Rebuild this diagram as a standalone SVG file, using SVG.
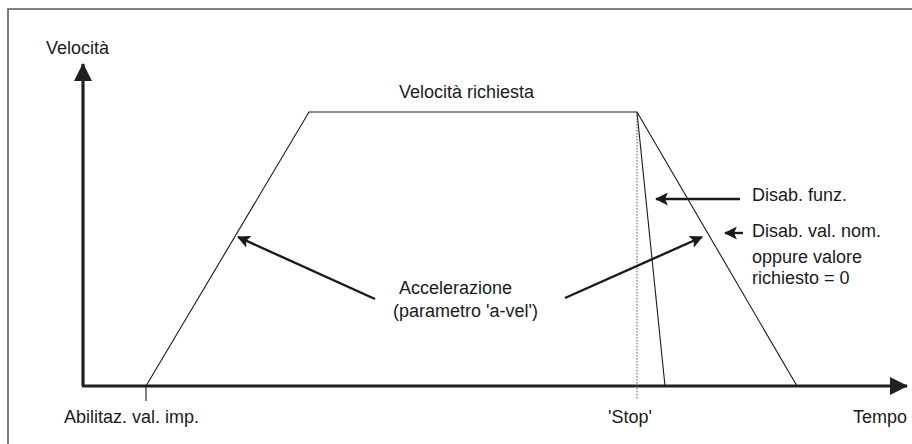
<svg xmlns="http://www.w3.org/2000/svg" width="912" height="444" viewBox="0 0 912 444">
<style>
text{font-family:"Liberation Sans",Arial,sans-serif;font-size:18px;fill:#1a1a1a}
.axis{stroke:#231f20;stroke-width:3.2;fill:none}
.curve{stroke:#1a1a1a;stroke-width:1.1;fill:none}
.ptr{stroke:#1a1a1a;stroke-width:2.4;fill:none}
</style>
<defs>
<marker id="axisHead" markerUnits="userSpaceOnUse" markerWidth="18" markerHeight="18" refX="17" refY="9" orient="auto" viewBox="0 0 18 18">
<path d="M0,0 L18,9 L0,18 z" fill="#231f20"/>
</marker>
<marker id="ptrHead" markerUnits="userSpaceOnUse" markerWidth="13" markerHeight="13" refX="12" refY="6.5" orient="auto" viewBox="0 0 13 13">
<path d="M0,0 L13,6.5 L0,13 L3,6.5 z" fill="#1a1a1a"/>
</marker>
</defs>
<path id="frame" d="M8,444 V9 H912" fill="none" stroke="#5a5a5a" stroke-width="1.6"/>
<g id="axes">
<line class="axis" x1="83" y1="386" x2="83" y2="64" marker-end="url(#axisHead)"/>
<line class="axis" x1="82" y1="386" x2="907" y2="386" marker-end="url(#axisHead)"/>
</g>
<g id="profile">
<polyline class="curve" points="146,386 309,112 637,112 797,386"/>
<line class="curve" x1="637" y1="112" x2="665" y2="386"/>
<line x1="637" y1="112" x2="637" y2="399" stroke="#555" stroke-width="1" stroke-dasharray="1.5,1.5"/>
<line class="curve" x1="146" y1="386" x2="146" y2="401"/>
</g>
<g id="connectors">
<line class="ptr" x1="375" y1="299" x2="238" y2="237" marker-end="url(#ptrHead)"/>
<line class="ptr" x1="565" y1="298" x2="702" y2="237" marker-end="url(#ptrHead)"/>
<line class="ptr" x1="740" y1="199" x2="656" y2="199" marker-end="url(#ptrHead)"/>
<line class="ptr" x1="743" y1="233" x2="725" y2="233" marker-end="url(#ptrHead)"/>
</g>
<g id="labels">
<text x="46" y="54">Velocità</text>
<text x="399" y="98">Velocità richiesta</text>
<text x="752" y="201">Disab. funz.</text>
<text x="752" y="237">Disab. val. nom.</text>
<text x="752" y="263">oppure valore</text>
<text x="752" y="284">richiesto = 0</text>
<text x="399" y="294">Accelerazione</text>
<text x="393" y="317">(parametro 'a-vel')</text>
<text x="64" y="423">Abilitaz. val. imp.</text>
<text x="608" y="423">'Stop'</text>
<text x="853" y="423">Tempo</text>
</g>
</svg>
